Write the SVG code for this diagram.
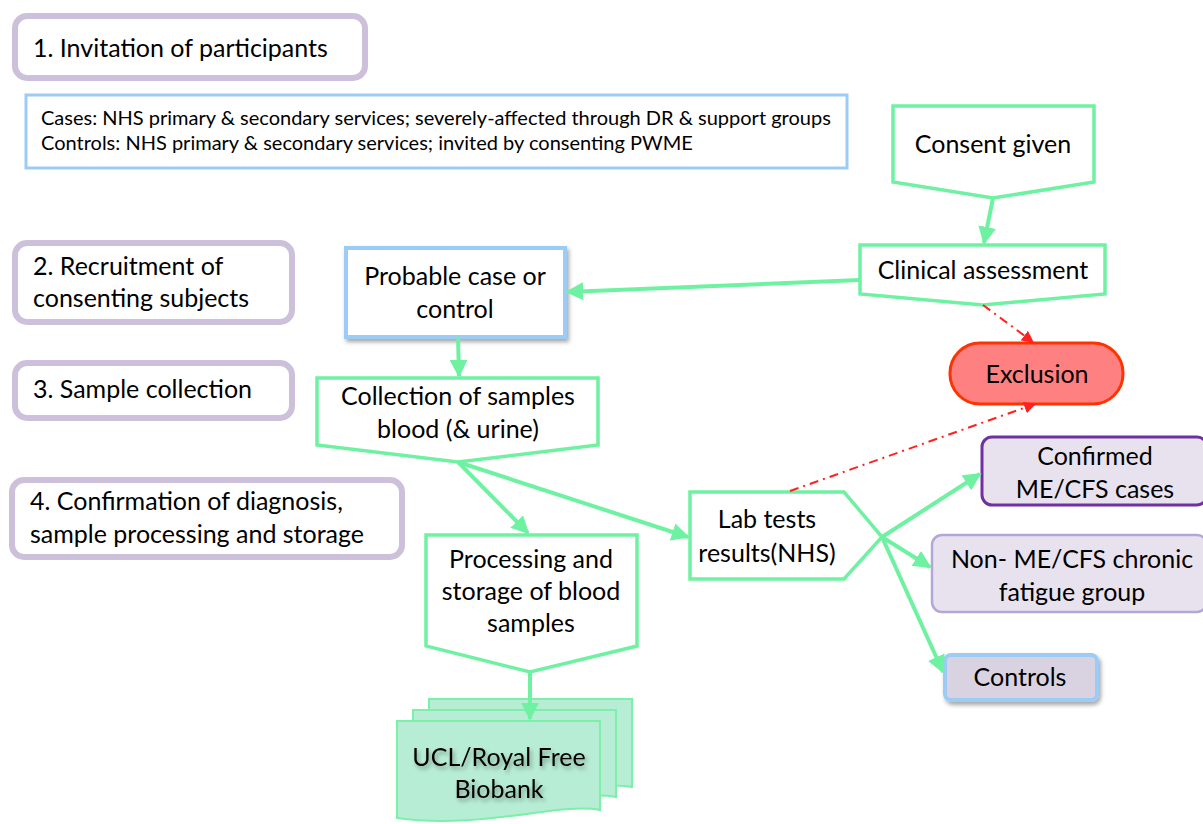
<svg xmlns="http://www.w3.org/2000/svg" width="1203" height="824" viewBox="0 0 1203 824">
<style>
text{font-family:Lato,"Liberation Sans",sans-serif;fill:#000;}
.stage{fill:#fff;stroke:#CCC0DA;stroke-width:6;}
.g{fill:#fff;stroke:#6EF2A2;stroke-width:3.5;stroke-linejoin:miter;}
.t{font-size:25px;text-anchor:middle;}
.s{font-size:25px;}
.conn{fill:none;stroke:#6EF2A2;stroke-width:4;}
.red{fill:none;stroke:#FF2020;stroke-width:2;stroke-dasharray:9 5 2 5;}
</style>
<defs>
<marker id="ga" viewBox="0 0 10 10" refX="9" refY="5" markerWidth="4.5" markerHeight="4.5" orient="auto" markerUnits="strokeWidth">
<path d="M0,0 L10,5 L0,10 Z" fill="#6EF2A2"/>
</marker>
<marker id="ra" viewBox="0 0 10 10" refX="9" refY="5" markerWidth="6" markerHeight="6" orient="auto" markerUnits="strokeWidth">
<path d="M0,0 L10,5 L0,10 Z" fill="#FF2020"/>
</marker>
<filter id="sh" x="-10%" y="-10%" width="125%" height="130%">
<feDropShadow dx="2" dy="3" stdDeviation="2" flood-color="#000" flood-opacity="0.35"/>
</filter>
</defs>

<g id="stage1"><rect class="stage" x="15" y="16" width="350" height="62" rx="12"/><text class="s" x="33" y="57">1. Invitation of participants</text></g>
<g id="stage2"><rect class="stage" x="15" y="243" width="277" height="79" rx="12"/><text class="s" x="33" y="275">2. Recruitment of</text><text class="s" x="33" y="307">consenting subjects</text></g>
<g id="stage3"><rect class="stage" x="15" y="363" width="277" height="55" rx="12"/><text class="s" x="33" y="398">3. Sample collection</text></g>
<g id="stage4"><rect class="stage" x="12" y="480" width="390" height="77" rx="12"/><text class="s" x="30" y="510">4. Confirmation of diagnosis,</text><text class="s" x="30" y="543">sample processing and storage</text></g>

<g id="sources"><rect x="26" y="95" width="821" height="73" fill="#fff" stroke="#9CCBF5" stroke-width="3"/>
<text x="41" y="125" style="font-size:20px">Cases: NHS primary &amp; secondary services; severely-affected through DR &amp; support groups</text>
<text x="41" y="150" style="font-size:20px">Controls: NHS primary &amp; secondary services; invited by consenting PWME</text></g>

<g id="consent"><path class="g" d="M893,106 H1094 V182 L993,198 L893,182 Z"/><text class="t" x="993" y="153">Consent given</text></g>
<g id="clinical"><path class="g" d="M860,245 H1105 V294 L983,305 L860,294 Z"/><text class="t" x="983" y="279">Clinical assessment</text></g>
<g id="probable"><rect x="346" y="248" width="219" height="89" fill="#fff" stroke="#9CCBF5" stroke-width="4" filter="url(#sh)"/><text class="t" x="455" y="285">Probable case or</text><text class="t" x="455" y="318">control</text></g>
<g id="collection"><path class="g" d="M317,378 H598 V445 L458,462 L317,445 Z"/><text class="t" x="458" y="405">Collection of samples</text><text class="t" x="458" y="438">blood  (&amp; urine)</text></g>
<g id="processing"><path class="g" d="M426,535 H637 V646 L530,672 L426,646 Z"/><text class="t" x="531" y="568">Processing and</text><text class="t" x="531" y="600">storage of blood</text><text class="t" x="531" y="632">samples</text></g>
<g id="biobank">
<path d="M429,699 H632 V787 C590,780 520,800 429,792 Z" fill="#B8EDD5" stroke="#7AF0A8" stroke-width="2"/>
<path d="M413,710 H616 V797 C575,790 505,812 413,803 Z" fill="#B8EDD5" stroke="#7AF0A8" stroke-width="2"/>
<path d="M397,721 H600 V810 C560,802 480,830 397,818 Z" fill="#B8EDD5" stroke="#7AF0A8" stroke-width="2"/>
<text class="t" x="499" y="766" filter="url(#sh)">UCL/Royal Free</text><text class="t" x="499" y="798" filter="url(#sh)">Biobank</text></g>
<g id="labtests"><path class="g" d="M690,492 H844 L882,537 L844,579 H690 Z"/><text class="t" x="767" y="528">Lab tests</text><text class="t" x="767" y="562">results(NHS)</text></g>
<g id="exclusion"><rect x="950" y="343" width="173" height="61" rx="30" fill="#FF8080" stroke="#FF3300" stroke-width="3"/><text class="t" x="1037" y="383">Exclusion</text></g>
<g id="confirmed"><rect x="982" y="437" width="225" height="68" rx="10" fill="#E8E2EF" stroke="#7030A0" stroke-width="3"/><text class="t" x="1095" y="465">Confirmed</text><text class="t" x="1095" y="498">ME/CFS cases</text></g>
<g id="nonme"><rect x="932" y="535" width="275" height="77" rx="10" fill="#E8E2EF" stroke="#B4A7D6" stroke-width="2.5"/><text class="t" x="1072" y="568">Non- ME/CFS chronic</text><text class="t" x="1072" y="601">fatigue group</text></g>
<g id="controls"><rect x="945" y="655" width="152" height="45" rx="6" fill="#D9D2E0" stroke="#9CCBF5" stroke-width="4" filter="url(#sh)"/><text class="t" x="1020" y="686">Controls</text></g>

<g id="connectors">
<line class="conn" x1="993" y1="198" x2="984" y2="243" marker-end="url(#ga)"/>
<line class="conn" x1="860" y1="280" x2="567" y2="292" marker-end="url(#ga)"/>
<line class="conn" x1="458" y1="337" x2="459" y2="376" marker-end="url(#ga)"/>
<line class="conn" x1="458" y1="462" x2="528" y2="533" marker-end="url(#ga)"/>
<line class="conn" x1="458" y1="462" x2="688" y2="537" marker-end="url(#ga)"/>
<line class="conn" x1="530" y1="672" x2="530" y2="719" marker-end="url(#ga)"/>
<line class="conn" x1="882" y1="537" x2="980" y2="474" marker-end="url(#ga)"/>
<line class="conn" x1="882" y1="537" x2="930" y2="567" marker-end="url(#ga)"/>
<line class="conn" x1="882" y1="537" x2="943" y2="672" marker-end="url(#ga)"/>
<line class="red" x1="983" y1="305" x2="1033" y2="342" marker-end="url(#ra)"/>
<line class="red" x1="790" y1="491" x2="1035" y2="404" marker-end="url(#ra)"/>
</g>
</svg>
